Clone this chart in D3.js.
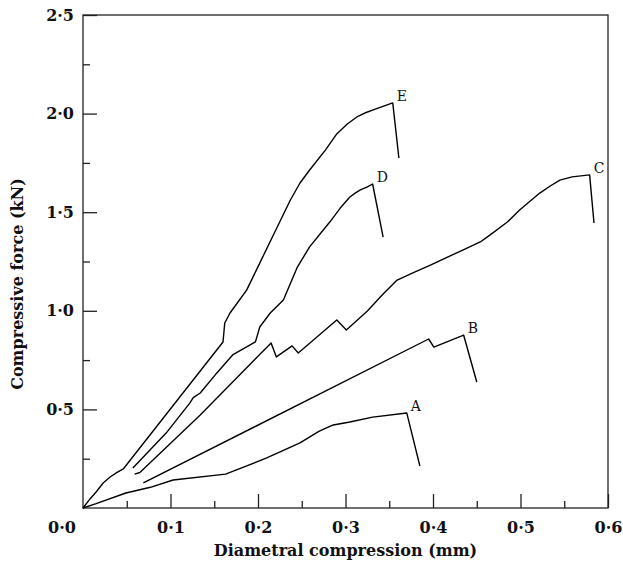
<!DOCTYPE html>
<html>
<head>
<meta charset="utf-8">
<script src="https://cdn.jsdelivr.net/npm/d3@7"></script>
<style>
  body { margin: 0; background: #fff; }
  svg { display: block; }
</style>
</head>
<body>
<svg id="chart" width="623" height="567"></svg>
<script>
// specimens A..E : [diametral compression (mm), compressive force (kN)]
var curveA = [[0,0],[0.015,0.022],[0.049,0.076],[0.077,0.105],[0.103,0.142],[0.163,0.172],
  [0.210,0.254],[0.248,0.330],[0.270,0.390],[0.286,0.421],[0.305,0.436],[0.331,0.461],
  [0.370,0.482],[0.385,0.213]];
var curveB = [[0.069,0.127],[0.395,0.857],[0.401,0.816],[0.435,0.877],[0.450,0.639]];
var curveC = [[0.059,0.172],[0.065,0.180],[0.134,0.472],[0.215,0.837],[0.221,0.766],[0.239,0.822],
  [0.246,0.786],[0.290,0.953],[0.301,0.903],[0.325,0.999],[0.343,1.085],[0.359,1.156],
  [0.377,1.192],[0.397,1.232],[0.434,1.308],[0.454,1.349],[0.465,1.384],[0.485,1.450],
  [0.499,1.511],[0.522,1.597],[0.534,1.633],[0.545,1.663],[0.559,1.679],[0.579,1.689],
  [0.584,1.445]];
var curveD = [[0.057,0.203],[0.095,0.380],[0.122,0.532],[0.126,0.560],[0.134,0.583],[0.153,0.685],
  [0.171,0.776],[0.191,0.827],[0.197,0.842],[0.200,0.887],[0.202,0.918],[0.214,0.989],
  [0.229,1.055],[0.245,1.222],[0.259,1.324],[0.282,1.450],[0.294,1.521],[0.305,1.577],
  [0.311,1.597],[0.317,1.613],[0.325,1.628],[0.331,1.643],[0.343,1.374]];
var curveE = [[0,0],[0.008,0.046],[0.015,0.081],[0.023,0.127],[0.031,0.157],[0.038,0.178],
  [0.046,0.198],[0.160,0.842],[0.162,0.938],[0.168,0.989],[0.187,1.105],[0.202,1.242],
  [0.222,1.425],[0.237,1.562],[0.248,1.648],[0.259,1.714],[0.277,1.815],[0.290,1.897],
  [0.302,1.947],[0.313,1.983],[0.322,2.003],[0.334,2.023],[0.354,2.054],[0.361,1.775]];
var curveNames = ["A","B","C","D","E"];
var xTicks = [0.1,0.2,0.3,0.4,0.5,0.6];
var yTicks = [0.5,1.0,1.5,2.0,2.5];

var curves = [curveA, curveB, curveC, curveD, curveE];
var W = 623, H = 567;
var m = {left: 83, top: 15, right: 15, bottom: 59};
var svg = d3.select('#chart');
var font = '"DejaVu Serif", "Liberation Serif", serif';

var x = d3.scaleLinear().domain([0,0.6]).range([m.left, W - m.right]);
var y = d3.scaleLinear().domain([0,2.5]).range([H - m.bottom, m.top]);
var fmt = function(d) { return d3.format('.1f')(d).replace('.', '\u00b7'); };

// minor ticks
var xMinor = d3.range(0.05, 0.6, 0.1);
var yMinor = d3.range(0.25, 2.5, 0.5);

svg.append('g').attr('transform', 'translate(0,' + y(0) + ')')
  .call(d3.axisBottom(x).tickValues(xTicks).tickSizeInner(-14).tickSizeOuter(0).tickPadding(14).tickFormat(fmt));
svg.append('g').attr('transform', 'translate(' + x(0) + ',0)')
  .call(d3.axisLeft(y).tickValues(yTicks).tickSizeInner(-14).tickSizeOuter(0).tickPadding(9).tickFormat(fmt));
svg.append('g').attr('transform', 'translate(0,' + y(0) + ')')
  .call(d3.axisBottom(x).tickValues(xMinor).tickSizeInner(-7).tickSizeOuter(0).tickFormat(''));
svg.append('g').attr('transform', 'translate(' + x(0) + ',0)')
  .call(d3.axisLeft(y).tickValues(yMinor).tickSizeInner(-7).tickSizeOuter(0).tickFormat(''));

svg.selectAll('.domain').remove();
svg.selectAll('.tick line').attr('stroke', '#222').attr('stroke-width', 1.3);
svg.selectAll('.tick text').attr('font-family', font).attr('font-size', 16)
  .attr('font-weight', 'bold').attr('fill', '#111');

// origin label shared by both axes
svg.append('text').attr('x', 62).attr('y', 533).attr('text-anchor', 'middle')
  .attr('font-family', font).attr('font-size', 16).attr('font-weight', 'bold').attr('fill', '#111')
  .text(fmt(0));

// frame
svg.append('rect').attr('x', x(0)).attr('y', y(2.5))
  .attr('width', x(0.6) - x(0)).attr('height', y(0) - y(2.5))
  .attr('fill', 'none').attr('stroke', '#222').attr('stroke-width', 1.3);

// curves
var line = d3.line().x(function(d) { return x(d[0]); }).y(function(d) { return y(d[1]); });
svg.selectAll('path.curve').data(curves).enter().append('path')
  .attr('class', 'curve').attr('d', line)
  .attr('fill', 'none').attr('stroke', '#000').attr('stroke-width', 1.4)
  .attr('stroke-linejoin', 'round');

// labels at peak of each curve
svg.selectAll('text.lab').data(curves).enter().append('text')
  .attr('class', 'lab')
  .attr('x', function(d) { var p = d3.greatest(d, function(q) { return q[1]; }); return x(p[0]) + 4; })
  .attr('y', function(d) { var p = d3.greatest(d, function(q) { return q[1]; }); return y(p[1]) - 2; })
  .attr('font-family', font).attr('font-size', 14).attr('fill', '#111')
  .text(function(d, i) { return curveNames[i]; });

// axis titles
svg.append('text').attr('x', (x(0) + x(0.6)) / 2).attr('y', 556).attr('text-anchor', 'middle')
  .attr('font-family', font).attr('font-size', 16).attr('font-weight', 'bold').attr('fill', '#111')
  .text('Diametral compression (mm)');
svg.append('text').attr('transform', 'translate(23,284) rotate(-90)')
  .attr('text-anchor', 'middle')
  .attr('font-family', font).attr('font-size', 16).attr('font-weight', 'bold').attr('fill', '#111')
  .text('Compressive force (kN)');
</script>
</body>
</html>
